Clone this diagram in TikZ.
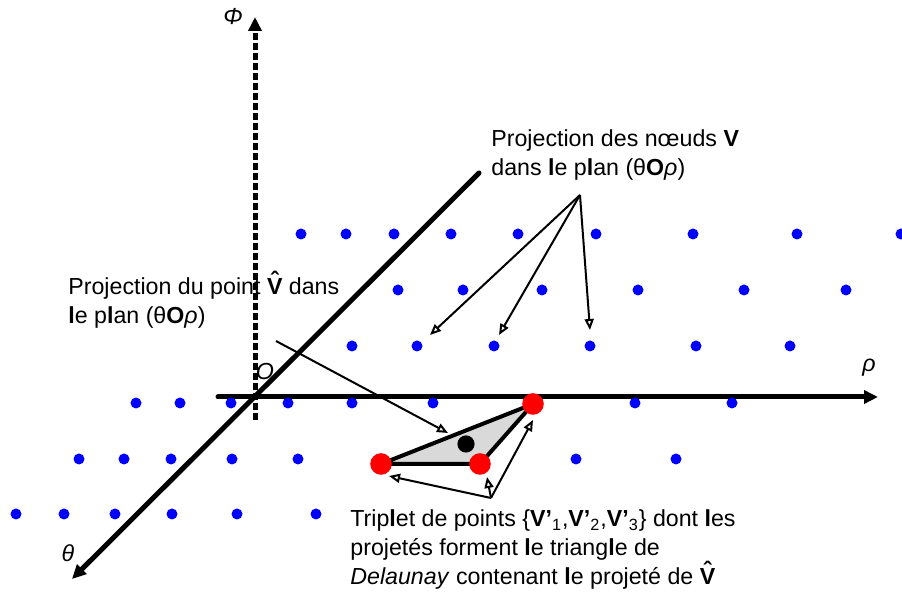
\documentclass[tikz,border=0pt]{standalone}
\usepackage{fontspec}
\setmainfont{Liberation Sans}
\usetikzlibrary{arrows.meta}
\newcommand\bl{\textbf{l}}
\newcommand\vchap{\textbf{\ooalign{V\cr\hidewidth\raisebox{0.28em}{\char"02C6}\hidewidth\cr}}}

\begin{document}
\begin{tikzpicture}[x=0.5pt,y=-0.5pt,
    axe/.style={line width=2.5pt,line cap=round,-{Triangle[length=7pt,width=6.5pt]}},
    fleche/.style={line width=1pt,-{Triangle[open,length=5.5pt,width=4.5pt]}},
    txt/.style={anchor=base west,align=left,inner sep=0pt,font=\fontsize{11.6}{14.5}\selectfont},
    lettre/.style={inner sep=0pt,font=\fontsize{11.6}{14.5}\selectfont\itshape}]
  \useasboundingbox (0,0) rectangle (902,597);
  % axes
  \draw[axe,line cap=butt,dash pattern=on 3.5pt off 1.5pt] (255,420) -- (255,17);
  \draw[axe] (218,397) -- (878,397);
  \draw[axe] (479,173) -- (72,579);
  \node[lettre] (phi) at (233,17) {Φ};
  \node[lettre] (rho) at (869,368) {ρ};
  \node[lettre] (theta) at (68,553) {θ};
  \node[lettre] (orig) at (265,372) {O};
  % projections des noeuds
  \foreach \y/\xs in {234/{301,346,394,451,518,596,693,797,901},
      290/{398,463,542,638,744,846},
      346/{352,417,494,590,696,790},
      403/{136,180,231,288,352,433,635,732},
      459/{79,124,171,232,298,576,676},
      514/{16,64,115,172,237,316}}
    \foreach \x in \xs
      \fill[blue] (\x,\y) circle (2.75pt);
  % triangle de Delaunay
  \coordinate (v1) at (381,464);
  \coordinate (v2) at (480,464);
  \coordinate (v3) at (533,404);
  \filldraw[fill=black!15,line width=2pt,line join=round] (v1) -- (v2) -- (v3) -- cycle;
  \fill (466,444) circle (4.3pt);
  \foreach \v in {v1,v2,v3}
    \fill[red] (\v) circle (5.4pt);
  % textes
  \node[txt] (haut) at (491,176) {Projection des nœuds \textbf{V}\\dans \bl e p\bl an (θ\textbf{O}\textit{ρ})};
  \node[txt] (gauche) at (68,324) {Projection du point \vchap{} dans\\\bl e p\bl an (θ\textbf{O}\textit{ρ})};
  \node[txt] (bas) at (350,585) {Trip\bl et de points \{\textbf{V’}\textsubscript{1},\textbf{V’}\textsubscript{2},\textbf{V’}\textsubscript{3}\} dont \bl es\\projetés forment \bl e triang\bl e de\\\textit{Delaunay} contenant \bl e projeté de \vchap};
  % fleches
  \coordinate (oh) at (580,195);
  \coordinate (t1) at (430,335);
  \coordinate (t2) at (499,335);
  \coordinate (t3) at (590,330);
  \coordinate (og) at (276,341);
  \coordinate (tg) at (448,433);
  \coordinate (ob) at (491,498);
  \coordinate (d1) at (389,476);
  \coordinate (d2) at (487,477);
  \coordinate (d3) at (533,420);
  \foreach \t in {t1,t2,t3}
    \draw[fleche] (oh) -- (\t);
  \draw[fleche] (og) -- (tg);
  \foreach \t in {d1,d2,d3}
    \draw[fleche] (ob) -- (\t);
\end{tikzpicture}
\end{document}
